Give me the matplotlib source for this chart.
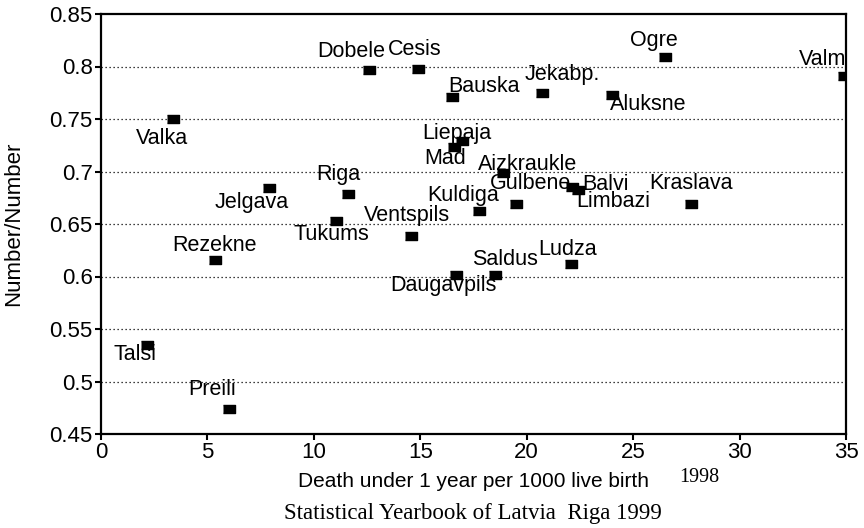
import matplotlib as mpl
mpl.use('Agg')
import matplotlib.pyplot as plt

mpl.rcParams['font.family'] = ['Liberation Sans', 'DejaVu Sans']

# districts of Latvia, 1998
names = ['Valka', 'Jelgava', 'Dobele', 'Cesis', 'Bauska', 'Jekabp.', 'Ogre', 'Valm',
         'Aluksne', 'Liepaja', 'Mad', 'Aizkraukle', 'Gulbene', 'Kuldiga', 'Riga',
         'Tukums', 'Ventspils', 'Balvi', 'Limbazi', 'Kraslava', 'Rezekne', 'Talsi',
         'Preili', 'Daugavpils', 'Saldus', 'Ludza']
deaths = [3.4, 7.9, 12.6, 14.9, 16.5, 20.7, 26.5, 34.9,
          24.0, 16.95, 16.6, 18.9, 19.5, 17.75, 11.6,
          11.05, 14.55, 22.15, 22.4, 27.7, 5.35, 2.15,
          6.0, 16.7, 18.5, 22.1]
ratio = [0.750, 0.684, 0.797, 0.798, 0.771, 0.775, 0.809, 0.791,
         0.773, 0.729, 0.723, 0.699, 0.669, 0.662, 0.679,
         0.653, 0.639, 0.685, 0.682, 0.669, 0.616, 0.535,
         0.474, 0.601, 0.601, 0.612]

yticks = [0.45, 0.5, 0.55, 0.6, 0.65, 0.7, 0.75, 0.8, 0.85]
yticklabels = ['0.45', '0.5', '0.55', '0.6', '0.65', '0.7', '0.75', '0.8', '0.85']
xticks = [0, 5, 10, 15, 20, 25, 30, 35]

# label offsets from marker centre (pixels, up positive)
offs = {'Valka': (-11, -20), 'Jelgava': (-17, -14), 'Dobele': (-18, 18), 'Cesis': (-3, 19),
        'Bauska': (32, 10), 'Jekabp.': (21, 18), 'Ogre': (-11, 17), 'Valm': (-21, 16),
        'Aluksne': (36, -10), 'Liepaja': (-5, 8), 'Mad': (-9, -11), 'Aizkraukle': (24, 8),
        'Gulbene': (14, 21), 'Kuldiga': (-16, 16), 'Riga': (-10, 19), 'Tukums': (-5, -14),
        'Ventspils': (-4, 20), 'Balvi': (33, 3), 'Limbazi': (35, -11), 'Kraslava': (0, 21),
        'Rezekne': (0, 14), 'Talsi': (-12, -10), 'Preili': (-17, 19), 'Daugavpils': (-13, -10),
        'Saldus': (10, 16), 'Ludza': (-4, 14)}

fig = plt.figure(figsize=(8.64, 5.28), dpi=100, facecolor='w')
ax = fig.add_axes([101/864., 1-434/528., 745/864., 420/528.])

box = [(-1.45, -1), (1.45, -1), (1.45, 1), (-1.45, 1)]
ax.plot(deaths, ratio, ls='none', marker=box, ms=8.6, color='black', zorder=3)
for n, x, y in zip(names, deaths, ratio):
    ax.annotate(n, (x, y), xytext=offs[n], textcoords='offset pixels',
                ha='center', va='center', fontsize=15.5, color='black', zorder=4)

for yv in yticks[1:-1]:
    ax.axhline(yv, color='black', lw=0.9, ls=(0, (1, 2.2)), zorder=1)

ax.set_xlim(0, 35)
ax.set_ylim(0.45, 0.85)
ax.set_xticks(xticks)
ax.set_xticklabels([str(t) for t in xticks])
ax.set_yticks(yticks)
ax.set_yticklabels(yticklabels)
ax.tick_params(direction='out', length=4, width=1.5, labelsize=16, pad=2)
for s in ax.spines.values():
    s.set_linewidth(1.6)

ax.set_xlabel('Death under 1 year per 1000 live birth', fontsize=15)
ax.xaxis.set_label_coords(0.5, -0.114)
ax.xaxis.label.set_va('center')
ax.set_ylabel('Number/Number', fontsize=16)
ax.yaxis.set_label_coords(-0.117, 0.5)
ax.yaxis.label.set_va('center')

fig.text(699/864., 1-478/528., '1998', family=['Liberation Serif', 'DejaVu Serif'],
         fontsize=14.5, ha='center', va='center')
fig.text(473/864., 1-514/528., 'Statistical Yearbook of Latvia  Riga 1999',
         family=['Liberation Serif', 'DejaVu Serif'], fontsize=16.5, ha='center', va='center')

plt.savefig('out.png', dpi=100)
